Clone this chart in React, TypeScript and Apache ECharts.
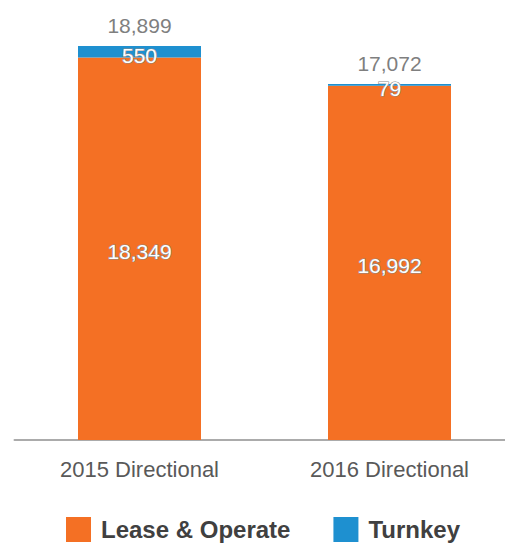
import React, { useEffect, useRef } from "react";
import * as echarts from "echarts";

const categories = ["2015 Directional", "2016 Directional"];
const leaseOperate = [18349, 16992];
const turnkey = [550, 79];
const totalLabels = ["18,899", "17,072"];

const FONT = "'Liberation Sans', Arial, sans-serif";
const ORANGE = "#F47024";
const BLUE = "#1E90D0";

export default function App() {
  const ref = useRef<HTMLDivElement>(null);
  useEffect(() => {
    document.body.style.margin = "0";
    if (!ref.current) return;
    const chart = echarts.init(ref.current, undefined, { renderer: "svg" });
    const fmt = (v: number) => v.toLocaleString("en-US");
    const insideLabel = {
      show: true,
      color: "#ffffff",
      fontSize: 21,
      fontFamily: FONT,
      textBorderColor: "#8a8a8a",
      textBorderWidth: 1.2,
    };
    chart.setOption({
      animation: false,
      grid: {
        left: 14.5,
        top: 23,
        width: 500,
        height: 417,
        outerBoundsMode: "none",
        containLabel: false,
      },
      legend: {
        data: ["Lease & Operate", "Turnkey"],
        top: 517,
        left: 66,
        padding: 0,
        itemWidth: 25,
        itemHeight: 25,
        itemGap: 43,
        icon: "rect",
        selectedMode: false,
        textStyle: {
          color: "#404040",
          fontSize: 24,
          fontWeight: "bold",
          fontFamily: FONT,
          padding: [0, 0, 0, 5],
        },
      },
      xAxis: {
        type: "category",
        data: categories,
        axisLine: { show: true, lineStyle: { color: "#ababab", width: 2 } },
        axisTick: { show: false },
        axisLabel: { color: "#595959", fontSize: 22, fontFamily: FONT, margin: 18 },
      },
      yAxis: {
        type: "value",
        min: 0,
        max: 20000,
        show: false,
        splitLine: { show: false },
      },
      series: [
        {
          name: "Lease & Operate",
          type: "bar",
          stack: "a",
          barWidth: 123,
          itemStyle: { color: ORANGE },
          data: leaseOperate,
          label: {
            ...insideLabel,
            position: "inside",
            offset: [0, 3],
            formatter: (p: any) => fmt(p.value),
          },
        },
        {
          name: "Turnkey",
          type: "bar",
          stack: "a",
          barWidth: 123,
          itemStyle: { color: BLUE },
          data: turnkey,
          label: {
            ...insideLabel,
            position: "inside",
            offset: [0, 4],
            formatter: (p: any) => fmt(p.value),
          },
        },
        {
          name: "Total",
          type: "bar",
          stack: "a",
          barWidth: 123,
          itemStyle: { color: "transparent" },
          data: categories.map(() => 0),
          label: {
            show: true,
            position: "top",
            distance: 10,
            color: "#7f7f7f",
            fontSize: 21,
            fontFamily: FONT,
            formatter: (p: any) => totalLabels[p.dataIndex],
          },
        },
      ],
    });
    return () => chart.dispose();
  }, []);
  return <div ref={ref} style={{ width: 505, height: 543 }} />;
}
